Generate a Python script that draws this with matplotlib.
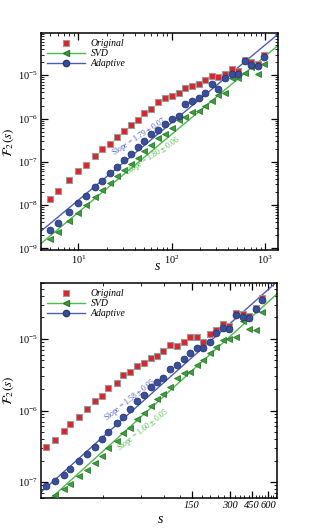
import matplotlib
matplotlib.use("Agg")
import matplotlib.pyplot as plt
import numpy as np
from matplotlib.lines import Line2D
from matplotlib.ticker import FixedLocator, LogLocator, MultipleLocator, NullFormatter

plt.rcParams["font.family"] = "serif"
plt.rcParams["font.serif"] = ["Liberation Serif", "DejaVu Serif"]
plt.rcParams["mathtext.fontset"] = "stix"

# ---- top panel data ----
top_s = [5, 6, 8, 10, 12, 15, 18, 22, 26, 31, 37, 43, 51, 60, 72, 85, 100, 119,
         138, 163, 195, 226, 267, 315, 372, 438, 517, 609, 713, 848, 976]
top_original = [1.38e-8, 2.1e-8, 3.85e-8, 6.1e-8, 8.5e-8, 1.35e-7, 2.0e-7, 2.65e-7,
                3.8e-7, 5.1e-7, 7.0e-7, 9.5e-7, 1.35e-6, 1.7e-6, 2.4e-6, 3.05e-6,
                3.3e-6, 3.9e-6, 5.1e-6, 5.6e-6, 6.4e-6, 7.7e-6, 9.8e-6, 8.9e-6,
                1.09e-5, 1.4e-5, 1.28e-5, 2.3e-5, 2.0e-5, 1.85e-5, 2.9e-5]
top_svd = [1.62e-9, 2.43e-9, 4.35e-9, 6.6e-9, 1.0e-8, 1.55e-8, 2.27e-8, 3.3e-8,
           4.7e-8, 6.6e-8, 9.1e-8, 1.24e-7, 1.76e-7, 2.47e-7, 3.5e-7, 4.5e-7,
           5.9e-7, 9.5e-7, 1.07e-6, 1.4e-6, 1.53e-6, 1.93e-6, 2.56e-6, 3.45e-6,
           3.9e-6, 8.8e-6, 8.7e-6, 1.13e-5, 1.55e-5, 1.09e-5, 1.83e-5]
top_adaptive = [2.65e-9, 3.9e-9, 7.0e-9, 1.13e-8, 1.62e-8, 2.57e-8, 3.65e-8, 5.4e-8,
                7.7e-8, 1.1e-7, 1.55e-7, 2.2e-7, 3.0e-7, 4.3e-7, 5.57e-7, 7.67e-7,
                9.66e-7, 1.13e-6, 2.2e-6, 2.55e-6, 3.05e-6, 3.9e-6, 6.4e-6, 4.7e-6,
                8.5e-6, 1.09e-5, 1.09e-5, 2.1e-5, 1.73e-5, 1.64e-5, 2.7e-5]
# power-law fits: (slope, prefactor)
top_fit_svd = (1.80, 1.09e-10)
top_fit_adaptive = (1.79, 2.13e-10)

# ---- bottom panel data ----
bot_s = [10.6, 12.5, 14.6, 16.4, 19.4, 22.5, 25.6, 29.2, 33.0, 38.4, 43.3, 48.9,
         55.8, 63, 71.2, 79.4, 89.6, 101, 114, 129, 146, 164, 185, 207, 233, 263,
         297, 336, 379, 423, 483, 535]
bot_original = [3.05e-7, 3.9e-7, 5.1e-7, 6.45e-7, 8.2e-7, 1.04e-6, 1.34e-6, 1.60e-6,
                2.05e-6, 2.46e-6, 3.15e-6, 3.5e-6, 4.25e-6, 4.57e-6, 5.37e-6, 5.8e-6,
                6.87e-6, 8.2e-6, 7.98e-6, 9.18e-6, 1.08e-5, 1.08e-5, 9.18e-6, 1.16e-5,
                1.34e-5, 1.60e-5, 1.52e-5, 2.28e-5, 2.21e-5, 2.09e-5, 2.68e-5, 3.69e-5]
bot_svd_s = bot_s[1:]
bot_svd = [6.65e-8, 7.98e-8, 9.48e-8, 1.2e-7, 1.46e-7, 1.84e-7, 2.28e-7, 2.98e-7,
           3.77e-7, 4.83e-7, 5.79e-7, 7.57e-7, 9.18e-7, 1.14e-6, 1.44e-6, 1.71e-6,
           2.16e-6, 2.82e-6, 3.39e-6, 3.5e-6, 4.38e-6, 5.04e-6, 6.31e-6, 7.82e-6,
           9.68e-6, 1.0e-5, 1.05e-5, 1.8e-5, 1.38e-5, 1.34e-5, 2.36e-5]
bot_adaptive = [8.9e-8, 1.05e-7, 1.24e-7, 1.52e-7, 1.96e-7, 2.48e-7, 3.08e-7, 3.98e-7,
                5.09e-7, 6.66e-7, 8.24e-7, 1.04e-6, 1.34e-6, 1.66e-6, 2.12e-6, 2.48e-6,
                2.82e-6, 3.77e-6, 4.34e-6, 5.26e-6, 6.31e-6, 7.57e-6, 7.41e-6, 9.18e-6,
                1.22e-5, 1.41e-5, 1.38e-5, 2.14e-5, 2.05e-5, 1.94e-5, 2.62e-5, 3.5e-5]
bot_fit_svd = (1.60, 1.18e-9)
bot_fit_adaptive = (1.58, 2.0e-9)
bot_xticks = [150, 300, 450, 600]

RED, RED_EDGE = "#d8262c", "#9a9a9a"
GREEN, GREEN_EDGE, GREEN_LINE = "#3f9e3f", "#2a7a2a", "#4cbb4c"
BLUE, BLUE_EDGE, BLUE_LINE = "#3a4f9c", "#27366e", "#4a5fb5"
MS = 4.9


def draw_panel(ax, s, original, svd_s, svd, adaptive, fit_svd, fit_adaptive, xlim, ylim):
    ax.set_xscale("log")
    ax.set_yscale("log")
    ax.set_xlim(*xlim)
    ax.set_ylim(*ylim)
    xx = np.geomspace(xlim[0], xlim[1], 50)
    ax.plot(xx, fit_svd[1] * xx ** fit_svd[0], color=GREEN_LINE, lw=1.0, zorder=2)
    ax.plot(xx, fit_adaptive[1] * xx ** fit_adaptive[0], color=BLUE_LINE, lw=1.0, zorder=2)
    ax.plot(s, original, ls="none", marker="s", ms=MS, mfc=RED, mec=RED_EDGE, mew=0.8, zorder=3)
    ax.plot(svd_s, svd, ls="none", marker="<", ms=MS, mfc=GREEN, mec=GREEN_EDGE, mew=0.6, zorder=3)
    ax.plot(s, adaptive, ls="none", marker="o", ms=MS, mfc=BLUE, mec=BLUE_EDGE, mew=0.6, zorder=4)
    ax.tick_params(which="both", direction="in", top=True, right=True, labelsize=7.5, pad=2.5)
    ax.tick_params(which="major", length=5, width=0.9)
    ax.tick_params(which="minor", length=2.5, width=0.6)
    for sp in ax.spines.values():
        sp.set_linewidth(1.1)
    ax.set_ylabel(r"$\mathcal{F}_2(s)$", fontsize=9.5)
    ax.yaxis.set_label_coords(-0.105, 0.5)
    handles = [
        Line2D([], [], ls="none", marker="s", ms=4.5, mfc=RED, mec=RED_EDGE, mew=0.8),
        Line2D([], [], color=GREEN_LINE, lw=1.0, marker="<", ms=4.5, mfc=GREEN, mec=GREEN_EDGE),
        Line2D([], [], color=BLUE_LINE, lw=1.0, marker="o", ms=4.5, mfc=BLUE, mec=BLUE_EDGE),
    ]
    ax.legend(handles, ["Original", "SVD", "Adaptive"], loc="upper left", frameon=False,
              prop={"style": "italic", "size": 7}, handlelength=3.9, handletextpad=0.6,
              labelspacing=0.1, borderaxespad=0.3, borderpad=0.3)


fig = plt.figure(figsize=(3.16, 5.29), dpi=100)

ax1 = fig.add_axes([0.130, 0.527, 0.750, 0.410])
draw_panel(ax1, top_s, top_original, top_s, top_svd, top_adaptive,
           top_fit_svd, top_fit_adaptive, (3.97, 1380), (9.1e-10, 9.3e-5))
ax1.yaxis.set_major_locator(LogLocator(base=10, numticks=20))
ax1.yaxis.set_minor_locator(LogLocator(base=10, subs=np.arange(2, 10), numticks=20))
ax1.set_xlabel("s", fontstyle="italic", fontsize=10)
ax1.xaxis.set_label_coords(0.49, -0.045)
ax1.text(0.414, 0.521, r"Slope = 1.79 $\pm$ 0.07", transform=ax1.transAxes, color=BLUE_LINE,
         fontsize=5.5, rotation=33, ha="center", va="center")
ax1.text(0.473, 0.433, r"Slope = 1.80 $\pm$ 0.06", transform=ax1.transAxes, color=GREEN_LINE,
         fontsize=5.5, rotation=33, ha="center", va="center")

ax2 = fig.add_axes([0.130, 0.0586, 0.747, 0.406])
draw_panel(ax2, bot_s, bot_original, bot_svd_s, bot_svd, bot_adaptive,
           bot_fit_svd, bot_fit_adaptive, (9.7, 706), (6.0e-8, 6.0e-5))
ax2.xaxis.set_major_locator(FixedLocator(bot_xticks))
ax2.xaxis.set_minor_locator(MultipleLocator(30))
ax2.xaxis.set_minor_formatter(NullFormatter())
ax2.set_xticklabels([str(v) for v in bot_xticks], fontstyle="italic", fontsize=7.5)
ax2.set_xlabel("s", fontstyle="italic", fontsize=10)
ax2.xaxis.set_label_coords(0.504, -0.07)
ax2.text(0.377, 0.456, r"Slope = 1.58 $\pm$ 0.05", transform=ax2.transAxes, color=BLUE_LINE,
         fontsize=5.5, rotation=38, ha="center", va="center")
ax2.text(0.432, 0.316, r"Slope = 1.60 $\pm$ 0.05", transform=ax2.transAxes, color=GREEN_LINE,
         fontsize=5.5, rotation=38, ha="center", va="center")

fig.savefig("out.png", dpi=100)
